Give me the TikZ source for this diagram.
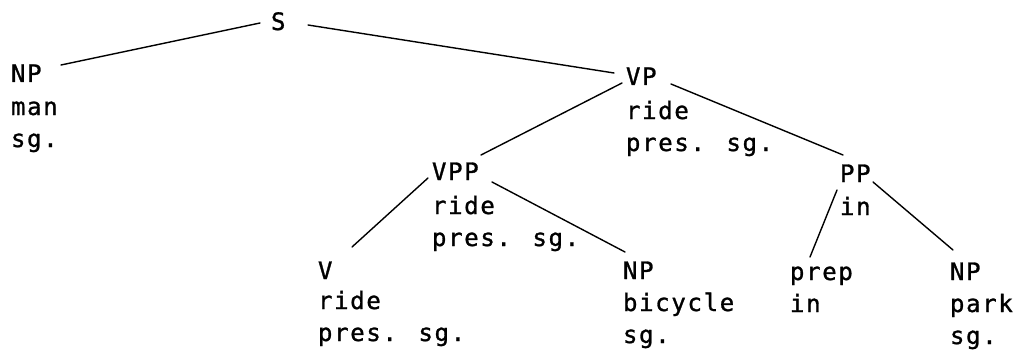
\documentclass[tikz,border=0pt]{standalone}
\usepackage{fontspec}
\newfontfamily\treefont[LetterSpace=7,FakeBold=1.2]{DejaVu Sans Mono}
\begin{document}
\begin{tikzpicture}[x=1pt,y=-1pt,
  head/.style={anchor=base west,inner sep=0pt,outer sep=0pt,font=\treefont\fontsize{24}{32}\selectfont},
  feat/.style={anchor=base west,inner sep=0pt,outer sep=0pt,align=left,font=\treefont\fontsize{24}{32}\selectfont},
  edge/.style={line width=1.4pt,line cap=round}]
\useasboundingbox (0,0) rectangle (1019,350);
% heads
\node[head] (S) at (271,30) {S};
\node[head] (NP1) at (11,82) {NP};
\node[head] (VP) at (626,85) {VP};
\node[head] (VPP) at (432,180) {VPP};
\node[head] (PP) at (840,182) {PP};
\node[head] (V) at (318,279) {V};
\node[head] (NP2) at (623,279) {NP};
\node[head] (PREP) at (790,280) {prep};
\node[head] (NP3) at (950,280) {NP};
% features (anchored at the baseline of their last line)
\node[feat] (NP1f) at (11,147) {man\\sg.};
\node[feat] (VPf) at (626,151) {ride\\pres. sg.};
\node[feat] (VPPf) at (432,246) {ride\\pres. sg.};
\node[feat] (PPf) at (840,215) {in};
\node[feat] (Vf) at (318,341) {ride\\pres. sg.};
\node[feat] (NP2f) at (623,343) {bicycle\\sg.};
\node[feat] (PREPf) at (790,312) {in};
\node[feat] (NP3f) at (950,344) {park\\sg.};
% connectors
\draw[edge] ([xshift=-11pt,yshift=7pt]S.base west) -- ([xshift=50pt,yshift=17pt]NP1.base west);
\draw[edge] ([xshift=37pt,yshift=5pt]S.base west) -- ([xshift=-12pt,yshift=12pt]VP.base west);
\draw[edge] ([xshift=-4pt,yshift=2pt]VP.base west) -- ([xshift=49pt,yshift=25pt]VPP.base west);
\draw[edge] ([xshift=45pt,yshift=1pt]VP.base west) -- ([xshift=3pt,yshift=27pt]PP.base west);
\draw[edge] ([xshift=-4pt,yshift=2pt]VPP.base west) -- ([xshift=34pt,yshift=32pt]V.base west);
\draw[edge] ([xshift=60pt,yshift=-2pt]VPP.base west) -- ([xshift=2pt,yshift=27pt]NP2.base west);
\draw[edge] ([xshift=-3pt,yshift=-8pt]PP.base west) -- ([xshift=20pt,yshift=23pt]PREP.base west);
\draw[edge] ([xshift=33pt,yshift=0pt]PP.base west) -- ([xshift=3pt,yshift=30pt]NP3.base west);
\end{tikzpicture}
\end{document}
